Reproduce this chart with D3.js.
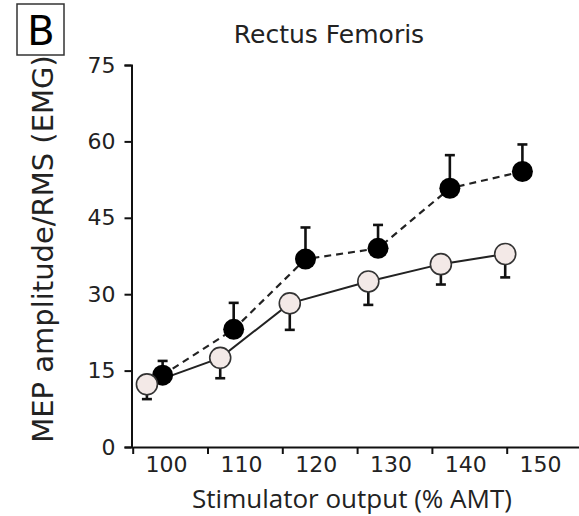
<!DOCTYPE html>
<html>
<head>
<meta charset="utf-8">
<script src="https://cdn.jsdelivr.net/npm/d3@7"></script>
<style>
  body { margin: 0; background: #fff; }
  svg { display: block; font-family: "DejaVu Sans", Verdana, sans-serif; }
</style>
</head>
<body>
<div id="chart"></div>
<script>
// stimulator output (% AMT) where each group is plotted
const xFilled = [99.0, 108.5, 118.1, 127.8, 137.4, 147.1];
const xOpen = [96.9, 106.7, 116.0, 126.5, 136.2, 144.8];
const filledMean = [14.1, 23.1, 36.9, 39.0, 50.8, 54.1];
const filledErr = [2.8, 5.2, 6.2, 4.6, 6.5, 5.3];
const openMean = [12.3, 17.5, 28.2, 32.5, 35.9, 37.9];
const openErr = [2.9, 4.0, 5.2, 4.6, 4.0, 4.6];
const xTickMarks = [95, 105, 115, 125, 135, 145];
const xTickLabels = [100, 110, 120, 130, 140, 150];
const yTicks = [0, 15, 30, 45, 60, 75];

const width = 579, height = 516;

const svg = d3.select("#chart").append("svg")
  .attr("width", width)
  .attr("height", height);

const x = d3.scaleLinear().domain([95, 155]).range([132.7, 581.5]);
const y = d3.scaleLinear().domain([0, 75]).range([447, 65]);

// panel letter
svg.append("rect")
  .attr("x", 17).attr("y", 4).attr("width", 47).attr("height", 51)
  .attr("fill", "none").attr("stroke", "#333").attr("stroke-width", 1.5);
svg.append("text")
  .attr("x", 41).attr("y", 45)
  .attr("text-anchor", "middle")
  .attr("font-size", 40)
  .text("B");

svg.append("text")
  .attr("x", 329).attr("y", 43)
  .attr("text-anchor", "middle")
  .attr("font-size", 25)
  .attr("fill", "#222")
  .text("Rectus Femoris");

// y axis
const yAxis = svg.append("g")
  .attr("transform", "translate(131.5,0)")
  .call(d3.axisLeft(y).tickValues(yTicks).tickSize(7).tickPadding(9));
yAxis.selectAll("path, line").attr("stroke", "#111").attr("stroke-width", 2);
yAxis.selectAll("text").attr("font-size", 22).attr("fill", "#222")
  .attr("font-family", "DejaVu Sans, sans-serif");

// x axis: tick marks between the labels
const xAxis = svg.append("g")
  .attr("transform", "translate(0,447)")
  .call(d3.axisBottom(x).tickValues(xTickMarks).tickSize(7).tickFormat("").tickSizeOuter(0));
xAxis.selectAll("path, line").attr("stroke", "#111").attr("stroke-width", 2);

const xLabels = svg.append("g")
  .attr("transform", "translate(-4,447)")
  .call(d3.axisBottom(x).tickValues(xTickLabels).tickSize(0).tickPadding(9));
xLabels.select(".domain").remove();
xLabels.selectAll("text").attr("font-size", 22).attr("fill", "#222")
  .attr("font-family", "DejaVu Sans, sans-serif");

svg.append("text")
  .attr("x", 352).attr("y", 508)
  .attr("text-anchor", "middle")
  .attr("font-family", "'Open Sans', sans-serif")
  .attr("font-size", 26)
  .attr("fill", "#222")
  .text("Stimulator output (% AMT)");

svg.append("text")
  .attr("transform", "translate(53,249) rotate(-90)")
  .attr("text-anchor", "middle")
  .attr("font-size", 29)
  .attr("fill", "#222")
  .text("MEP amplitude/RMS (EMG)");

const filled = xFilled.map((v, i) => ({ x: v, m: filledMean[i], e: filledErr[i] }));
const open = xOpen.map((v, i) => ({ x: v, m: openMean[i], e: openErr[i] }));

const line = d3.line().x(d => x(d.x)).y(d => y(d.m));

svg.append("path").datum(filled)
  .attr("d", line).attr("fill", "none")
  .attr("stroke", "#222").attr("stroke-width", 2.2)
  .attr("stroke-dasharray", "7,5");
svg.append("path").datum(open)
  .attr("d", line).attr("fill", "none")
  .attr("stroke", "#222").attr("stroke-width", 2);

// error bars: filled goes up, open goes down
function errorBars(data, dir) {
  const g = svg.append("g").attr("stroke", "#111").attr("stroke-width", 2.6);
  g.selectAll(".stem").data(data).enter().append("line")
    .attr("x1", d => x(d.x)).attr("x2", d => x(d.x))
    .attr("y1", d => y(d.m)).attr("y2", d => y(d.m + dir * d.e));
  g.selectAll(".cap").data(data).enter().append("line")
    .attr("x1", d => x(d.x) - 5).attr("x2", d => x(d.x) + 5)
    .attr("y1", d => y(d.m + dir * d.e)).attr("y2", d => y(d.m + dir * d.e));
}
errorBars(filled, 1);
errorBars(open, -1);

svg.append("g").selectAll("circle").data(filled).enter().append("circle")
  .attr("cx", d => x(d.x)).attr("cy", d => y(d.m))
  .attr("r", 10.5).attr("fill", "#000");

svg.append("g").selectAll("circle").data(open).enter().append("circle")
  .attr("cx", d => x(d.x)).attr("cy", d => y(d.m))
  .attr("r", 10.5).attr("fill", "#f3e9e7")
  .attr("stroke", "#333").attr("stroke-width", 1.6);
</script>
</body>
</html>
